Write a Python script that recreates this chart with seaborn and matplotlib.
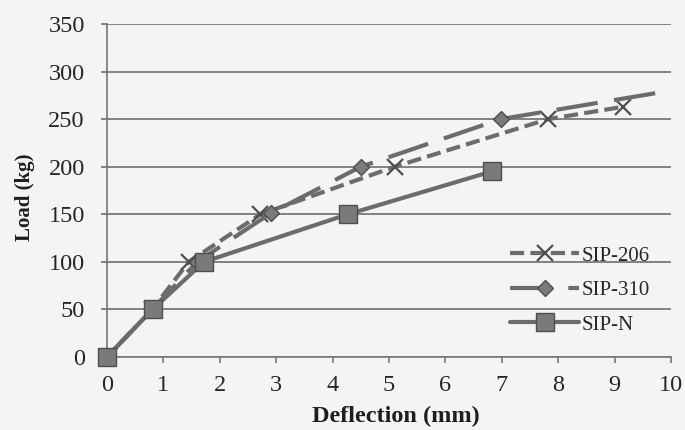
import matplotlib
matplotlib.use("Agg")
import matplotlib.pyplot as plt
import seaborn as sns
import pandas as pd

# Data
sip206_x = [0, 0.8, 1.45, 2.72, 5.1, 7.82, 9.15]
sip206_y = [0, 50, 100, 150, 200, 250, 263]
sip310_x = [0, 0.8, 1.6, 2.9, 4.5, 6.98, 10.5]
sip310_y = [0, 50, 100, 151, 200, 250, 285]
sipN_x = [0, 0.81, 1.72, 4.27, 6.82]
sipN_y = [0, 50, 100, 150, 195]

series_names = ["SIP-206", "SIP-310", "SIP-N"]
x_ticks = list(range(0, 11))
y_ticks = list(range(0, 351, 50))

sns.set_theme(style="white")
plt.rcParams['font.family'] = ['Liberation Serif', 'DejaVu Serif']

df = pd.concat([
    pd.DataFrame({"x": sip206_x, "y": sip206_y, "s": series_names[0]}),
    pd.DataFrame({"x": sip310_x, "y": sip310_y, "s": series_names[1]}),
    pd.DataFrame({"x": sipN_x, "y": sipN_y, "s": series_names[2]}),
])

bg = "#f4f4f4"
fig = plt.figure(figsize=(6.85, 4.3), dpi=100)
fig.patch.set_facecolor(bg)
ax = fig.add_axes([0.1562, 0.1698, 0.8234, 0.7744])
ax.set_facecolor(bg)

styles = {
    "SIP-206": dict(dashes=(3.4, 1.5), marker="x", ms=12, mew=1.6, clip=False),
    "SIP-310": dict(dashes=(10, 4), marker="D", ms=8.5, mew=1.0, clip=True),
    "SIP-N": dict(dashes=(), marker="s", ms=13, mew=1.0, clip=False),
}
line_col = "#6c6c6c"
for name in series_names:
    sub = df[df.s == name]
    st = styles[name]
    ln, = ax.plot(sub.x, sub.y, color=line_col, lw=3.0, marker=st["marker"],
                  ms=st["ms"], mew=st["mew"], mfc="#7a7a7a", mec="#4e4e4e",
                  label=name, clip_on=st["clip"], zorder=3)
    if st["dashes"]:
        ln.set_dashes(st["dashes"])
sns.despine(ax=ax, top=True, right=True)

ax.set_xlim(0, 10)
ax.set_ylim(0, 350)
ax.set_xticks(x_ticks)
ax.set_yticks(y_ticks)
ax.yaxis.grid(True, color="#6e6e6e", lw=1.2)
ax.set_axisbelow(True)
for sp in ["left", "bottom"]:
    ax.spines[sp].set_color("#777777")
    ax.spines[sp].set_linewidth(1.2)
ax.tick_params(axis="x", direction="out", length=4, width=1.2, color="#777777",
               labelsize=17.5, pad=9, bottom=True)
ax.tick_params(axis="y", direction="out", length=4, width=1.2, color="#6e6e6e",
               labelsize=17.5, pad=12, left=True)
ax.set_xlabel("Deflection (mm)", fontsize=17.5, fontweight="bold")
ax.set_ylabel("Load (kg)", fontsize=15, fontweight="bold")
ax.xaxis.set_label_coords(0.512, -0.148)
ax.yaxis.set_label_coords(-0.128, 0.48)

leg = fig.legend(loc="upper left", bbox_to_anchor=(0.745, 0.428), frameon=False,
                 fontsize=15, handlelength=3.3, labelspacing=0.72, handletextpad=0.1,
                 borderpad=0.0, borderaxespad=0.0)
for t in leg.get_texts():
    t.set_color("#262626")
for t in ax.get_xticklabels() + ax.get_yticklabels():
    t.set_color("#262626")
ax.xaxis.label.set_color("#1e1e1e")
ax.yaxis.label.set_color("#1e1e1e")

fig.savefig("out.png", dpi=100, facecolor=fig.get_facecolor())
